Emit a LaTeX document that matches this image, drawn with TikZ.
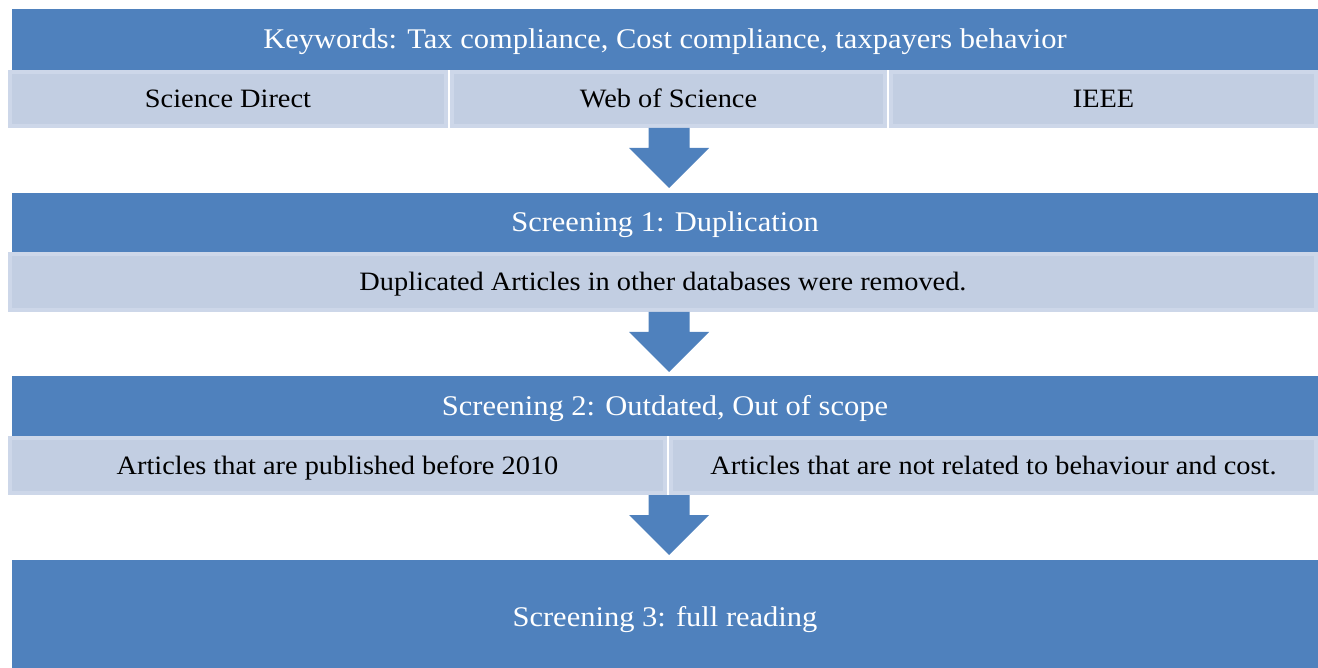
\documentclass[tikz,border=0pt]{standalone}
\usepackage{fontspec}
\setmainfont[FakeStretch=1.07]{Liberation Serif}
\definecolor{barblue}{HTML}{4F81BD}
\definecolor{cellfill}{HTML}{C2CEE2}
\definecolor{celledge}{HTML}{CDD7E9}
\begin{document}
\begin{tikzpicture}[x=1pt,y=-1pt,
  bar/.style={fill=barblue, text=white, inner sep=0pt,
    font=\fontsize{28.5}{34}\selectfont, text height=18.8pt, text depth=0pt},
  cell/.style={fill=cellfill, draw=celledge, line width=4pt, text=black,
    inner sep=0pt, font=\fontsize{26.5}{32}\selectfont,
    text height=17.5pt, text depth=0pt},
  blockarrow/.pic={\fill[barblue] (-20.5,0) -- (20.5,0) -- (20.5,20) -- (40,20)
    -- (0,60) -- (-40,20) -- (-20.5,20) -- cycle;}]
\useasboundingbox (0,0) rectangle (1318,668);

% stage 0: search
\node[bar, minimum width=1306pt, minimum height=61pt] (kw) at (665,39.5)
  {Keywords: Tax compliance, Cost compliance, taxpayers behavior};
\node[cell, minimum width=436pt, minimum height=54pt] (sd) at (228,99) {Science Direct};
\node[cell, minimum width=433pt, minimum height=54pt] (wos) at (668.5,99) {Web of Science};
\node[cell, minimum width=425pt, minimum height=54pt] (ieee) at (1103.5,99) {IEEE};
\coordinate (a1) at (669,128);
\pic at (a1) {blockarrow};

% stage 1: duplicates
\node[bar, minimum width=1306pt, minimum height=59pt] (s1) at (665,222.5)
  {Screening 1: Duplication};
\node[cell, minimum width=1306pt, minimum height=56pt] (dup) at (663,282)
  {Duplicated Articles in other databases were removed.};
\coordinate (a2) at (669,312);
\pic at (a2) {blockarrow};

% stage 2: date and scope
\node[bar, minimum width=1306pt, minimum height=60pt] (s2) at (665,406)
  {Screening 2: Outdated, Out of scope};
\node[cell, minimum width=655pt, minimum height=55pt] (old) at (337.5,465.5)
  {Articles that are published before 2010};
\node[cell, minimum width=645pt, minimum height=55pt] (scope) at (993.5,465.5)
  {Articles that are not related to behaviour and cost.};
\coordinate (a3) at (669,495);
\pic at (a3) {blockarrow};

% stage 3: full reading (runs past the lower edge of the page)
\node[bar, minimum width=1306pt, minimum height=114pt] (s3) at (665,617)
  {Screening 3: full reading};
\end{tikzpicture}
\end{document}
